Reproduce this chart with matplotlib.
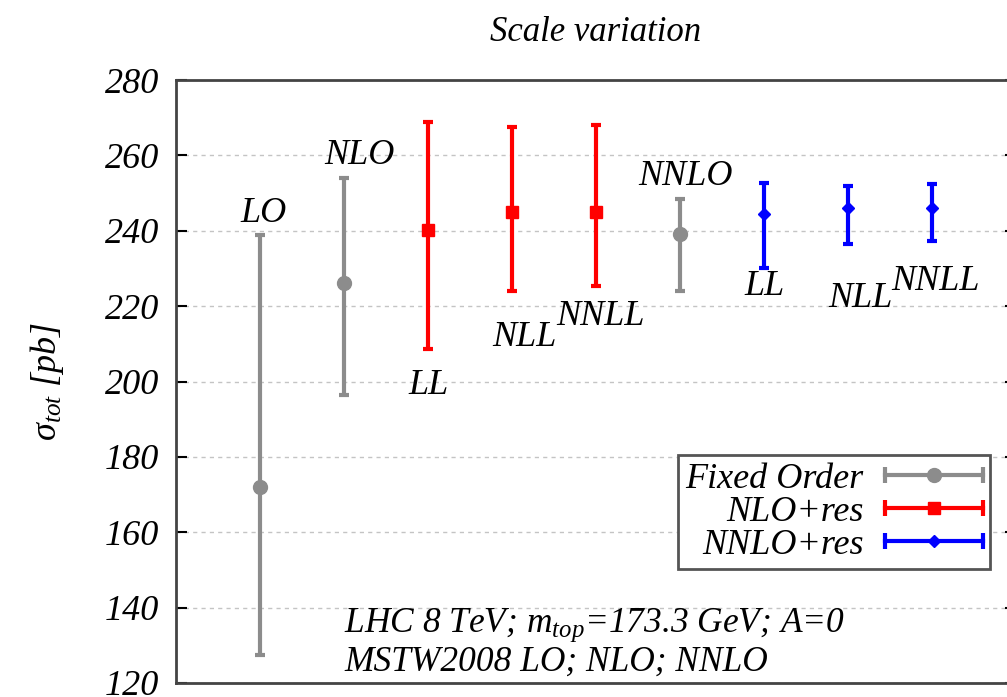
import numpy as np
import matplotlib
matplotlib.use("Agg")
import matplotlib.pyplot as plt
from matplotlib.lines import Line2D
from matplotlib.legend_handler import HandlerBase

plt.rcParams['font.family'] = ['Liberation Serif', 'DejaVu Serif']
plt.rcParams['font.style'] = 'italic'
plt.rcParams['mathtext.fontset'] = 'custom'
plt.rcParams['mathtext.it'] = 'Liberation Serif:italic'
plt.rcParams['mathtext.rm'] = 'Liberation Serif'

# fixed order: LO, NLO, NNLO
fo_x = [1, 2, 6]
fo_val = [172.0, 226.2, 239.2]
fo_lo = [127.5, 196.4, 224.1]
fo_hi = [239.0, 254.1, 248.4]

# NLO + resummation: LL, NLL, NNLL
nlo_x = [3, 4, 5]
nlo_val = [240.2, 245.1, 245.1]
nlo_lo = [208.7, 224.0, 225.4]
nlo_hi = [268.8, 267.5, 268.0]

# NNLO + resummation: LL, NLL, NNLL
nnlo_x = [7, 8, 9]
nnlo_val = [244.4, 246.0, 246.0]
nnlo_lo = [230.1, 236.5, 237.3]
nnlo_hi = [252.6, 251.9, 252.3]

point_names = ['LO', 'NLO', 'LL', 'NLL', 'NNLL', 'NNLO', 'LL', 'NLL', 'NNLL']
name_x = [1.04, 2.18, 3.01, 4.15, 5.05, 6.07, 7.01, 8.15, 9.04]
name_y = [244.7, 260.0, 199.0, 211.6, 217.2, 254.4, 225.2, 222.0, 226.5]

series = [
    ('Fixed Order', fo_x, fo_val, fo_lo, fo_hi, '#8c8c8c', 'o', 10),
    ('NLO+res', nlo_x, nlo_val, nlo_lo, nlo_hi, '#ff0000', 's', 9),
    ('NNLO+res', nnlo_x, nnlo_val, nnlo_lo, nnlo_hi, '#0000ff', 'D', 6),
]


class HorizErrHandler(HandlerBase):
    # gnuplot-like key sample: horizontal bar with end caps, point in middle
    def create_artists(self, legend, orig, xd, yd, w, h, fontsize, trans):
        c = orig.get_color()
        y = yd + h / 2
        bar = Line2D([xd, xd + w], [y, y], color=c, lw=3, transform=trans)
        caps = Line2D([xd, xd + w], [y, y], ls='', marker='|', ms=11,
                      mew=3, color=c, transform=trans)
        pt = Line2D([xd + w / 2], [y], ls='', marker=orig.get_marker(),
                    ms=orig.get_markersize(), color=c, transform=trans)
        return [bar, caps, pt]


fig = plt.figure(figsize=(10.07, 6.97), dpi=100)
ax = fig.add_axes([0.1748, 0.0201, 0.834, 0.8651])

handles = []
for name, x, v, lo, hi, col, mk, ms in series:
    v = np.array(v)
    err = [v - np.array(lo), np.array(hi) - v]
    ax.errorbar(x, v, yerr=err, fmt=mk, color=col, ms=ms, lw=3,
                capsize=3.5, capthick=3, zorder=3)
    handles.append(Line2D([], [], color=col, marker=mk, ms=ms))

for t, x, y in zip(point_names, name_x, name_y):
    ax.text(x, y, t, ha='center', va='center', fontsize=26)

ax.set_xlim(0, 10)
ax.set_ylim(120, 280)
ax.set_yticks(np.arange(120, 281, 20))
ax.set_xticks([])
ax.tick_params(axis='y', direction='in', length=8, width=1.5,
               labelsize=26, pad=12, right=True)
ax.yaxis.grid(True, ls=(0, (3, 3)), color='#c4c4c4', lw=1)
ax.set_axisbelow(True)
for s in ax.spines.values():
    s.set_linewidth(2)
    s.set_color('#444444')

ax.set_ylabel(r'$\mathrm{\sigma}_{tot}$ [pb]', fontsize=26, labelpad=28)
ax.set_title('Scale variation', fontsize=25, pad=28)

ax.text(2.0, 135.4, 'LHC 8 TeV; $m_{top}$=173.3 GeV; A=0', fontsize=25.5,
        va='center', ha='left')
ax.text(2.0, 125.6, 'MSTW2008 LO; NLO; NNLO', fontsize=25.5,
        va='center', ha='left')

leg = ax.legend(handles, [s[0] for s in series], markerfirst=False,
                handler_map={Line2D: HorizErrHandler()},
                loc='upper right', bbox_to_anchor=(0.969, 0.378),
                borderaxespad=0, fontsize=26, handlelength=2.7,
                labelspacing=0.0, fancybox=False, framealpha=1,
                borderpad=0.2, handletextpad=0.6)
leg.get_frame().set_edgecolor('#555555')
leg.get_frame().set_linewidth(2)

fig.savefig('out.png', dpi=100)
